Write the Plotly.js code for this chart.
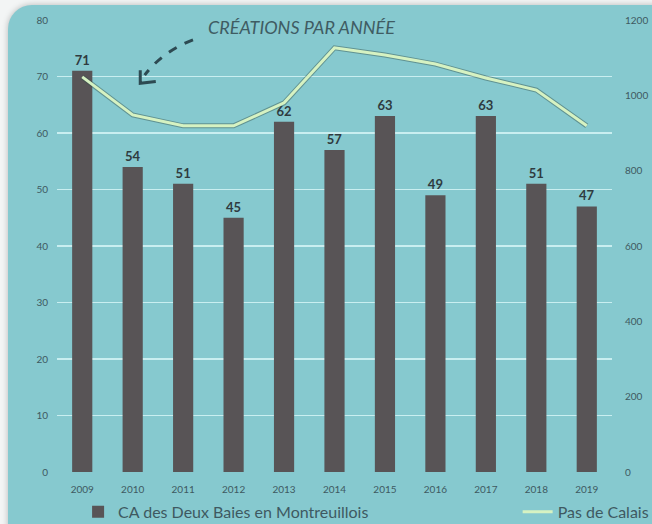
<!DOCTYPE html>
<html>
<head>
<meta charset="utf-8">
<script src="https://cdn.plot.ly/plotly-3.0.1.min.js"></script>
<style>
  html, body { margin:0; padding:0; background:#f3f5f5; width:652px; height:524px; overflow:hidden; }
  #panel { position:absolute; left:8px; top:5px; width:680px; height:560px; border-radius:24px; background:#86c9cf; box-shadow:0 0 6px rgba(0,0,0,0.25); }
  #chart { position:absolute; left:0; top:0; width:652px; height:524px; }
</style>
</head>
<body>
<div id="panel"></div>
<div id="chart"></div>
<script>
const years = ["2009","2010","2011","2012","2013","2014","2015","2016","2017","2018","2019"];
const creationsCA = [71, 54, 51, 45, 62, 57, 63, 49, 63, 51, 47];
const creationsPdC = [1049, 948, 919, 919, 980, 1126, 1107, 1083, 1046, 1014, 919];
const leftTicks = [0,10,20,30,40,50,60,70,80];
const rightTicks = [0,200,400,600,800,1000,1200];

const labelColor = "#3e5961";
const fontFam = "Lato, 'Open Sans', sans-serif";

const traces = [
  {
    type: "bar", x: years, y: creationsCA, name: "CA des Deux Baies en Montreuillois",
    marker: { color: "#585456" }, width: 0.4,
    text: creationsCA.map(String), textposition: "outside", cliponaxis: false,
    textfont: { family: fontFam, size: 13, color: "#2f3b40", weight: 700 },
    legend: "legend"
  },
  {
    type: "scatter", mode: "lines", x: years, y: creationsPdC, yaxis: "y2",
    line: { color: "rgba(50,80,70,0.45)", width: 5 }, showlegend: false, hoverinfo: "skip"
  },
  {
    type: "scatter", mode: "lines", x: years, y: creationsPdC, yaxis: "y2", name: "Pas de Calais",
    line: { color: "#d6f2c2", width: 3 }, legend: "legend2"
  }
];

const layout = {
  width: 652, height: 524,
  paper_bgcolor: "rgba(0,0,0,0)", plot_bgcolor: "rgba(0,0,0,0)",
  margin: { l: 57, r: 40, t: 20, b: 52, autoexpand: false },
  font: { family: fontFam, color: labelColor },
  bargap: 0.6,
  xaxis: {
    type: "category", tickvals: years, ticktext: years,
    tickfont: { size: 10, color: labelColor }, showgrid: false, zeroline: false,
    showline: false, ticks: "", fixedrange: true, automargin: false,
    ticklabelstandoff: 10
  },
  yaxis: {
    range: [0, 80], tickvals: leftTicks, tickfont: { size: 10, color: labelColor },
    showgrid: true, gridcolor: "#c9eef0", gridwidth: 1.5, zeroline: false, ticks: "",
    ticklabelstandoff: 8, automargin: false
  },
  yaxis2: {
    range: [0, 1200], tickvals: rightTicks, overlaying: "y", side: "right",
    tickfont: { size: 10, color: labelColor }, showgrid: false, zeroline: false, ticks: "",
    ticklabelstandoff: 12, automargin: false
  },
  legend: {
    orientation: "h", x: 0.038, y: -0.088, xanchor: "left", yanchor: "middle",
    font: { size: 16, color: labelColor }, bgcolor: "rgba(0,0,0,0)"
  },
  legend2: {
    orientation: "h", x: 0.83, y: -0.088, xanchor: "left", yanchor: "middle",
    font: { size: 16, color: labelColor }, bgcolor: "rgba(0,0,0,0)"
  },
  annotations: [
    {
      text: "<i>CRÉATIONS PAR ANNÉE</i>", xref: "paper", yref: "paper",
      x: 0.44, y: 0.985, xanchor: "center", yanchor: "middle", showarrow: false,
      font: { size: 18, color: "#3f5c63", family: fontFam }
    }
  ],
  shapes: [
    {
      type: "path", xref: "paper", yref: "paper",
      path: "M 0.245 0.956 Q 0.19 0.93 0.158 0.878",
      line: { color: "#2d4a52", width: 3, dash: "dash" }
    },
    {
      type: "path", xref: "paper", yref: "paper",
      path: "M 0.150 0.889 L 0.150 0.860 L 0.178 0.864",
      line: { color: "#2d4a52", width: 3 }
    }
  ]
};

Plotly.newPlot("chart", traces, layout, { displayModeBar: false, staticPlot: true });
</script>
</body>
</html>
